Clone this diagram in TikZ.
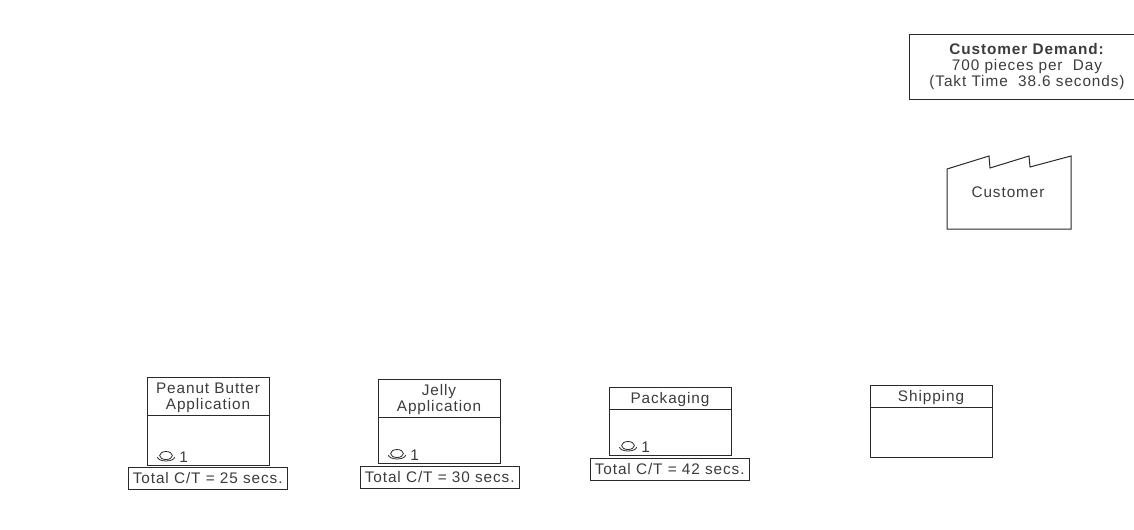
\documentclass[tikz,border=0pt]{standalone}
\usepackage{fontspec}
\setmainfont[LetterSpace=6]{Liberation Sans}
\definecolor{ink}{HTML}{2A2A2A}
\definecolor{inktext}{HTML}{3C3C3C}
\tikzset{
  pxbox/.style={draw=ink,line width=0.75pt,rectangle,inner sep=0pt,outer sep=0pt,text=inktext,align=center,font=\fontsize{11.5}{12}\selectfont},
  headbox/.style={pxbox,minimum width=91.5pt,label={[txt,yshift=-1.2pt]center:{#1}}},
  bodybox/.style={pxbox,minimum width=91.5pt},
  ctbox/.style={pxbox,minimum width=119.5pt,minimum height=16.8pt},
  txt/.style={text=inktext,inner sep=0pt,align=center,font=\fontsize{11.5}{12}\selectfont},
  oplabel/.style={txt,anchor=west},
  opicon/.style={draw=ink,line width=0.6pt}
}
\newcommand{\opr}[3]{%
  \draw[opicon] (#1,#2-1.5) ellipse[x radius=4.8pt,y radius=3pt];
  \draw[opicon] (#1-8.5,#2) arc[start angle=180,end angle=360,x radius=6.4pt,y radius=3pt];
  \node[oplabel] (#3) at (#1+13,#2) {1};
}
\begin{document}
\begin{tikzpicture}[x=0.75pt,y=-0.75pt]
\useasboundingbox (0,0) rectangle (1134,529);
\fill[white] (0,0) rectangle (1134,529);
\begin{scope}
\clip (0,0) rectangle (1134,529);
\node[pxbox,minimum width=171pt,minimum height=48.75pt,anchor=north west] (demand) at (909,34) {};
\end{scope}
\node[txt] (demandtext) at (1027,66.5) {\textbf{Customer Demand:}\\700 pieces per\ \ Day\\(Takt Time\ \ 38.6 seconds)};
\node[txt] (cust) at (1008,192.5) {Customer};
\draw[draw=ink,line width=0.75pt] (947,229) -- (947,169) -- (989,156) -- (990,168) -- (1029,156) -- (1030,167) -- (1071,156) -- (1071,229) -- cycle;
% process 1
\node[headbox={Peanut Butter\\Application},minimum height=28.5pt,anchor=north west] (p1h) at (147,377) {};
\node[bodybox,minimum height=37.5pt,anchor=north] (p1b) at (p1h.south) {};
\opr{166}{457}{p1n}
\node[ctbox,anchor=north west] (p1c) at (128,467) {Total C/T = 25 secs.};
% process 2
\node[headbox={Jelly\\Application},minimum height=28.5pt,anchor=north west] (p2h) at (378,379) {};
\node[bodybox,minimum height=34.5pt,anchor=north] (p2b) at (p2h.south) {};
\opr{397}{455}{p2n}
\node[ctbox,anchor=north west] (p2c) at (360,466) {Total C/T = 30 secs.};
% process 3
\node[headbox={Packaging},minimum height=16.5pt,anchor=north west] (p3h) at (609,387) {};
\node[bodybox,minimum height=34.5pt,anchor=north] (p3b) at (p3h.south) {};
\opr{628}{447}{p3n}
\node[ctbox,anchor=north west] (p3c) at (590,458) {Total C/T = 42 secs.};
% shipping
\node[headbox={Shipping},minimum height=16.5pt,anchor=north west] (p4h) at (870,385) {};
\node[bodybox,minimum height=38pt,anchor=north] (p4b) at (p4h.south) {};
\end{tikzpicture}
\end{document}
